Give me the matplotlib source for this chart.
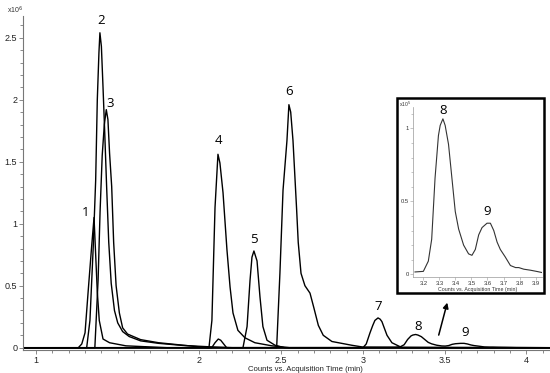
import matplotlib.pyplot as plt
from matplotlib.patches import Rectangle
from matplotlib.ticker import MultipleLocator, FixedLocator

# retention time (min) / counts (x10^6) per compound trace
t1 = [0.92, 1.259, 1.28, 1.30, 1.32, 1.34, 1.355, 1.365, 1.375, 1.387, 1.41, 1.45, 1.55, 1.8, 4.14]
y1 = [0, 0, 0.03, 0.12, 0.47, 0.81, 1.05, 0.75, 0.45, 0.22, 0.07, 0.04, 0.015, 0, 0]

t2 = [0.92, 1.31, 1.33, 1.35, 1.365, 1.375, 1.385, 1.391, 1.40, 1.41, 1.42, 1.432, 1.445, 1.46, 1.48,
      1.50, 1.53, 1.57, 1.64, 1.75, 1.9, 2.05, 2.2, 4.14]
y2 = [0, 0, 0.22, 0.81, 1.35, 2.0, 2.38, 2.54, 2.43, 2.10, 1.75, 1.30, 0.85, 0.52, 0.30,
      0.20, 0.13, 0.09, 0.055, 0.035, 0.018, 0.008, 0, 0]

t3 = [0.92, 1.36, 1.38, 1.392, 1.405, 1.418, 1.43, 1.44, 1.45, 1.463, 1.475, 1.49, 1.51, 1.53,
      1.56, 1.64, 1.75, 1.9, 2.05, 4.14]
y3 = [0, 0, 0.55, 1.1, 1.55, 1.80, 1.92, 1.84, 1.57, 1.30, 0.85, 0.50, 0.28, 0.16,
      0.11, 0.065, 0.04, 0.02, 0, 0]

t4 = [0.92, 2.058, 2.076, 2.095, 2.113, 2.125, 2.144, 2.168, 2.187, 2.205, 2.235, 2.278, 2.339, 2.443, 2.55, 4.14]
y4 = [0, 0, 0.22, 1.13, 1.56, 1.49, 1.25, 0.79, 0.49, 0.28, 0.14, 0.08, 0.04, 0.015, 0, 0]

t5 = [0.92, 2.075, 2.095, 2.115, 2.13, 2.148, 2.166, 2.266, 2.291, 2.309, 2.321, 2.333, 2.352,
      2.370, 2.388, 2.413, 2.462, 2.52, 4.14]
y5 = [0, 0, 0.04, 0.07, 0.06, 0.03, 0, 0, 0.17, 0.54, 0.73, 0.78, 0.70,
      0.41, 0.17, 0.06, 0.02, 0, 0]

t6 = [0.92, 2.472, 2.492, 2.511, 2.535, 2.547, 2.558, 2.572, 2.594, 2.604, 2.621, 2.645, 2.676,
      2.70, 2.727, 2.757, 2.81, 2.93, 3.0, 4.14]
y6 = [0, 0, 0.60, 1.27, 1.67, 1.96, 1.90, 1.67, 1.12, 0.85, 0.60, 0.50, 0.44,
      0.32, 0.18, 0.10, 0.05, 0.02, 0.005, 0]

t7 = [0.92, 3.0, 3.02, 3.043, 3.06, 3.073, 3.092, 3.105, 3.116, 3.13, 3.147, 3.177, 3.239, 4.14]
y7 = [0, 0, 0.03, 0.12, 0.18, 0.22, 0.24, 0.23, 0.21, 0.16, 0.10, 0.04, 0, 0]

# compounds 8 + 9 (one trace), counts x10^5 - also shown enlarged in the inset
t89 = [3.148, 3.2, 3.231, 3.252, 3.273, 3.294, 3.305, 3.322, 3.336, 3.357, 3.378, 3.399, 3.42,
       3.451, 3.482, 3.503, 3.524, 3.545, 3.566, 3.597, 3.618, 3.639, 3.66, 3.68, 3.71, 3.743,
       3.775, 3.795, 3.826, 3.868, 3.91, 3.94]
y89 = [0.016, 0.02, 0.09, 0.24, 0.66, 0.95, 1.02, 1.065, 1.02, 0.89, 0.66, 0.43, 0.31,
       0.20, 0.14, 0.13, 0.17, 0.27, 0.32, 0.35, 0.35, 0.30, 0.22, 0.17, 0.12, 0.06,
       0.046, 0.046, 0.035, 0.028, 0.019, 0.012]

peak_labels = ["1", "2", "3", "4", "5", "6", "7", "8", "9"]
label_t = [1.306, 1.398, 1.453, 2.113, 2.333, 2.547, 3.092, 3.336, 3.624]
label_y = [1.09, 2.64, 1.97, 1.67, 0.87, 2.07, 0.33, 0.17, 0.12]

main_xticks = [1, 2, 2.5, 3, 3.5, 4]
main_yticks = [0, 0.5, 1, 1.5, 2, 2.5]

inset_xticks = [3.2, 3.3, 3.4, 3.5, 3.6, 3.7, 3.8, 3.9]
inset_yticks = [0, 0.5, 1]

plt.rcParams['font.family'] = ['Liberation Sans', 'DejaVu Sans']

fig = plt.figure(figsize=(5.5, 3.73), dpi=100)
ax = fig.add_axes([0.0427, 0.0617, 0.9573, 0.8953])

for t, y in [(t1, y1), (t2, y2), (t3, y3), (t4, y4), (t5, y5), (t6, y6), (t7, y7)]:
    ax.plot(t, y, color='black', lw=1.0)
t89_main = [0.92] + t89 + [4.14]
y89_main = [0] + [v / 10 for v in y89] + [0]
ax.plot(t89_main, y89_main, color='black', lw=1.0)

for s, tx, ty in zip(peak_labels, label_t, label_y):
    ax.text(tx, ty, s, ha='center', va='center', fontsize=9.5, family='Open Sans')

ax.set_xlim(0.9235, 4.144)
ax.set_ylim(-0.0185, 2.675)
ax.xaxis.set_major_locator(FixedLocator(main_xticks))
ax.xaxis.set_minor_locator(MultipleLocator(0.1))
ax.yaxis.set_major_locator(FixedLocator(main_yticks))
ax.yaxis.set_minor_locator(MultipleLocator(0.1))
ax.set_xticklabels([f"{v:g}" for v in main_xticks])
ax.set_yticklabels([f"{v:g}" for v in main_yticks])
for side in ['top', 'right']:
    ax.spines[side].set_visible(False)
for side in ['left', 'bottom']:
    ax.spines[side].set_color('#777777')
    ax.spines[side].set_linewidth(0.8)
ax.tick_params(which='both', colors='#777777', labelcolor='#222222', labelsize=6.5, width=0.6)
ax.tick_params(which='major', length=3, pad=1.5)
ax.tick_params(which='minor', length=2)
ax.set_xlabel("Counts vs. Acquisition Time (min)", fontsize=5.6, color='#222222')
ax.xaxis.set_label_coords(0.535, -0.047)
fig.text(0.012, 0.963, r"x10$^{6}$", fontsize=5, color='#333333')

ax.annotate("", xy=(3.52, 0.385), xytext=(3.459, 0.08),
            arrowprops=dict(arrowstyle='-|>', color='black', lw=1.1, mutation_scale=8))

# inset: enlarged view of peaks 8 and 9
fig.patches.append(Rectangle((0.7218, 0.2153), 0.2664, 0.5228, transform=fig.transFigure,
                             fill=True, facecolor='white', edgecolor='black', lw=1.8, zorder=5))
axi = fig.add_axes([0.7515, 0.2568, 0.2340, 0.4571], zorder=6)
axi.patch.set_alpha(0)
axi.plot(t89, y89, color='#333333', lw=0.8)
axi.text(3.322, 1.12, "8", ha='center', va='center', fontsize=9.5, family='Open Sans')
axi.text(3.60, 0.43, "9", ha='center', va='center', fontsize=9.5, family='Open Sans')
axi.set_xlim(3.1375, 3.94)
axi.set_ylim(-0.02, 1.148)
axi.xaxis.set_major_locator(FixedLocator(inset_xticks))
axi.yaxis.set_major_locator(FixedLocator(inset_yticks))
axi.yaxis.set_minor_locator(MultipleLocator(0.1))
axi.set_xticklabels([f"{v:g}" for v in inset_xticks])
axi.set_yticklabels([f"{v:g}" for v in inset_yticks])
for side in ['top', 'right']:
    axi.spines[side].set_visible(False)
for side in ['left', 'bottom']:
    axi.spines[side].set_color('#999999')
    axi.spines[side].set_linewidth(0.5)
axi.tick_params(which='both', colors='#999999', labelcolor='#333333', labelsize=4.2, width=0.4, pad=1)
axi.tick_params(which='major', length=2)
axi.tick_params(which='minor', length=1.2)
axi.set_xlabel("Counts vs. Acquisition Time (min)", fontsize=3.8, color='#333333', labelpad=0.5)
fig.text(0.725, 0.713, r"x10$^{5}$", fontsize=3.6, color='#333333', zorder=7)

fig.savefig("out.png", dpi=100)
